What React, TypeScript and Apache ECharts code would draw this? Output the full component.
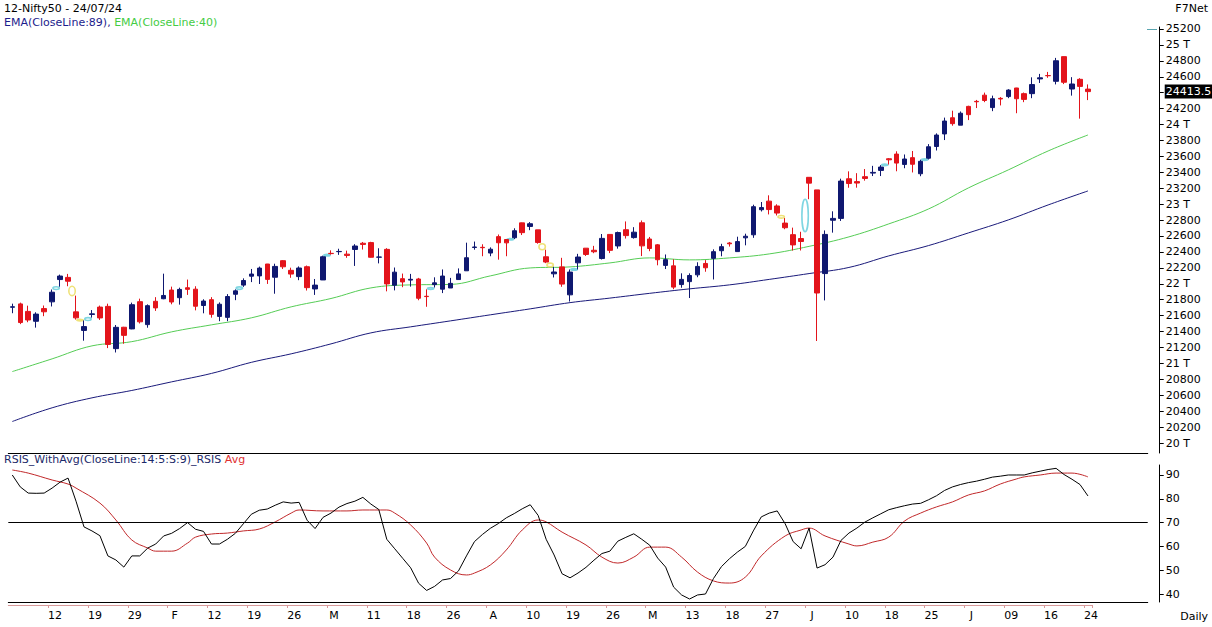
import React, { useEffect, useRef } from 'react';
import * as echarts from 'echarts';

// ---- trading days shown (Jan 5 2024 .. Jul 24 2024) ----
const dates = [
  '01-05','01-08','01-09','01-10','01-11','01-12','01-15','01-16','01-17','01-18',
  '01-19','01-20','01-23','01-24','01-25','01-29','01-30','01-31','02-01','02-02',
  '02-05','02-06','02-07','02-08','02-09','02-12','02-13','02-14','02-15','02-16',
  '02-19','02-20','02-21','02-22','02-23','02-26','02-27','02-28','02-29','03-01',
  '03-02','03-04','03-05','03-06','03-07','03-11','03-12','03-13','03-14','03-15',
  '03-18','03-19','03-20','03-21','03-22','03-26','03-27','03-28','04-01','04-02',
  '04-03','04-04','04-05','04-08','04-09','04-10','04-12','04-15','04-16','04-18',
  '04-19','04-22','04-23','04-24','04-25','04-26','04-29','04-30','05-02','05-03',
  '05-06','05-07','05-08','05-09','05-10','05-13','05-14','05-15','05-16','05-17',
  '05-18','05-21','05-22','05-23','05-24','05-27','05-28','05-29','05-30','05-31',
  '06-03','06-04','06-05','06-06','06-07','06-10','06-11','06-12','06-13','06-14',
  '06-18','06-19','06-20','06-21','06-24','06-25','06-26','06-27','06-28','07-01',
  '07-02','07-03','07-04','07-05','07-08','07-09','07-10','07-11','07-12','07-15',
  '07-16','07-18','07-19','07-22','07-23','07-24',
];
const futureSlots = ['f1', 'f2', 'f3', 'f4', 'f5', 'f6', 'f7'];

const opens = [
  21705,21747,21653,21529,21688,21773,22053,22080,21647,21414,
  21615,21707,21716,21185,21454,21433,21775,21487,21780,21812,
  21921,21825,21950,21932,21727,21800,21590,21578,21868,21983,
  22095,22099,22248,22082,22290,22169,22090,22214,21935,22048,
  22382,22403,22372,22431,22509,22517,22334,22432,21982,22064,
  22046,22060,21843,21990,21932,21947,22053,22163,22456,22458,
  22386,22592,22556,22578,22765,22720,22677,22339,22125,22212,
  21861,22263,22447,22421,22317,22620,22475,22679,22580,22766,
  22562,22489,22231,22225,21990,22027,22112,22255,22319,22415,
  22512,22404,22577,22615,22930,23038,22977,22762,22617,22568,
  23337,23179,22128,22798,22821,23319,23283,23345,23390,23424,
  23570,23629,23499,23584,23382,23577,23724,23882,24085,23992,
  24228,24291,24369,24213,24329,24351,24459,24388,24388,24573,
  24615,24543,24853,24446,24568,24445,
];
const highs = [
  21750,21763,21725,21642,21727,21928,22115,22124,21851,21539,
  21670,21726,21750,21482,21459,21763,21813,21741,21832,22127,
  21964,21951,22053,21969,21805,21832,21766,21870,21930,22068,
  22186,22216,22249,22252,22297,22202,22218,22229,22060,22353,
  22420,22440,22416,22497,22525,22527,22446,22447,22204,22128,
  22124,22074,21930,22081,22180,22074,22193,22516,22530,22496,
  22457,22619,22557,22697,22768,22775,22677,22428,22213,22326,
  22180,22376,22447,22476,22625,22620,22655,22783,22711,22795,
  22588,22499,22368,22307,22131,22131,22270,22297,22432,22502,
  22525,22591,22629,22993,23027,23111,22998,22825,22705,22653,
  23338,23179,22670,22910,23320,23412,23389,23441,23481,23490,
  23579,23664,23624,23668,23558,23754,23889,24087,24174,24164,
  24236,24309,24401,24363,24345,24444,24461,24402,24593,24636,
  24661,24837,24854,24595,24582,24504,
];
const lows = [
  21630,21493,21517,21449,21593,21715,21963,21969,21550,21285,
  21575,21546,21192,21137,21247,21429,21501,21448,21659,21806,
  21742,21738,21860,21666,21629,21574,21530,21530,21794,21961,
  22021,21997,21998,21875,22186,22075,22045,21915,21860,22047,
  22366,22363,22326,22224,22430,22329,22256,21905,21917,21957,
  21964,21793,21711,21953,21883,21947,22052,22163,22428,22346,
  22346,22303,22346,22561,22612,22673,22503,22259,22079,21962,
  21777,22180,22349,22384,22305,22385,22441,22568,22567,22348,
  22409,22232,22185,21932,21950,21821,22082,22151,22054,22345,
  22467,22404,22483,22577,22908,22871,22858,22685,22417,22418,
  23062,21281,21791,22642,22789,23206,23207,23295,23353,23353,
  23498,23413,23451,23398,23351,23562,23674,23805,23985,23992,
  24056,24207,24281,24168,24240,24331,24142,24281,24331,24522,
  24587,24504,24508,24363,24074,24307,
];
const closes = [
  21711,21513,21545,21619,21648,21894,22097,22032,21572,21462,
  21622,21571,21238,21453,21352,21737,21522,21725,21697,21853,
  21771,21929,21930,21718,21783,21616,21743,21840,21911,22041,
  22122,22197,22055,22218,22213,22122,22198,21951,21983,22339,
  22379,22406,22356,22474,22494,22333,22336,21998,22146,22023,
  22056,21818,21839,22012,22097,22005,22124,22327,22462,22453,
  22434,22515,22514,22666,22642,22754,22519,22273,22148,21996,
  22147,22336,22368,22402,22570,22420,22643,22605,22648,22476,
  22443,22302,22303,21958,22055,22104,22218,22201,22403,22466,
  22502,22530,22597,22968,22957,22932,22888,22704,22488,22531,
  23264,21884,22620,22821,23290,23259,23265,23323,23399,23466,
  23557,23516,23567,23501,23538,23721,23868,24044,24011,24142,
  24124,24286,24302,24324,24321,24433,24324,24316,24502,24587,
  24613,24801,24531,24509,24479,24413.5,
];

// EMA lines at every 5th session: [session index, value]
const ema89 = [
  [0,20270],[5,20442],[10,20567],[15,20660],[20,20768],[25,20874],[30,21013],
  [35,21120],[40,21245],[45,21383],[50,21459],[55,21534],[60,21610],[65,21685],
  [70,21763],[75,21820],[80,21880],[85,21936],[90,21986],[95,22055],[100,22128],
  [105,22205],[110,22350],[115,22480],[120,22639],[125,22802],[130,22990],[135,23166],
];
const ema40 = [
  [0,20897],[5,21057],[10,21220],[15,21273],[20,21396],[25,21484],[30,21572],
  [35,21710],[40,21815],[45,21948],[50,21986],[55,21992],[60,22099],[65,22199],
  [70,22212],[75,22262],[80,22325],[85,22300],[90,22325],[95,22375],[100,22470],
  [105,22589],[110,22752],[115,22940],[120,23204],[125,23430],[130,23668],[135,23869],
];

// RSI per session and its average (read at traced points)
const rsi = [
  90,85,82.4,82.3,82.4,84.5,87,88.7,79,68.2,
  66.5,64.5,56,54.3,51.3,56,56,59.3,61,64.4,
  65.5,67.5,70,67.2,66.3,61,61,63,65.5,69.5,
  73.5,75.2,75.7,77.3,78.7,78.2,78.5,71,67.5,72.2,
  74,76.5,78,79,80.6,77.8,75.5,63,59,55,
  51,44.5,41.5,43.2,45.9,46.5,49.7,56,62,65,
  67.6,69.6,72,73.8,75.8,77.5,73,63,56.4,48.5,
  46.8,48.8,51.2,54.2,57,58,62.2,63.8,65.3,63,
  60.5,55.1,51.3,42.9,39.6,37.9,39.6,40,46.5,51.5,
  54.8,57.6,60,66.5,72.4,74,74.9,69.5,62,59,
  67.7,50.9,52.3,55.5,62.5,65.6,67.7,70.2,72,73.7,
  75.4,76.3,77.1,77.8,78.1,79.6,81.3,83.5,85,86,
  86.8,87.4,88.2,89.1,89.5,90,90,90,90.9,91.6,
  92.3,92.8,90.2,88.2,86,81.2,
];
const rsiAvg = [
  [0,92.1],[2,90.8],[5,87.9],[7,86.2],[8,84.5],[11,78.2],[13,71.1],[15,62.7],
  [17,59.3],[18,58],[20,58],[22,61.4],[23,63.9],[25,65.2],[27,65.6],[29,66.5],
  [31,67.3],[33,70.3],[35,74],[36,75.3],[39,74.9],[42,74.9],[44,75.3],[47,75.3],
  [48,74],[50,69],[52,61.4],[53,55.5],[55,50.1],[57,48],[58,48.8],[60,52.2],
  [62,58.5],[64,66.9],[66,71.1],[67,70.3],[69,66],[72,60.6],[74,55.5],[76,53],
  [78,55.5],[80,59.7],[82,59.7],[84,55.5],[86,49.2],[88,45.5],[90,44.6],[92,47.1],
  [94,56],[97,64.4],[99,66.9],[100,67.7],[102,64.4],[105,61],[106,60.2],[108,61.8],
  [110,63.9],[112,70.7],[114,74],[116,76.6],[118,78.7],[120,81.6],[122,83.3],
  [124,86.2],[126,88.3],[127,89.2],[129,90],[131,90.8],[133,90.8],[135,89.2],
];
const rsiLevel = 70;

// axis tick labels
const xTickLabels = [
  '12','19','29','F','12','19','26','M','11','18','26','A','10','19',
  '26','M','13','18','27','J','10','18','25','J','09','16','24',
];
const priceTicks = [
  20000,20200,20400,20600,20800,21000,21200,21400,21600,21800,22000,22200,22400,
  22600,22800,23000,23200,23400,23600,23800,24000,24200,24400,24600,24800,25000,25200,
];
const rsiTicks = [40, 50, 60, 70, 80, 90];

const FONT = 'DejaVu Sans, Verdana, sans-serif';
const NAVY = '#0f1870';
const RED = '#e3141b';
const GREEN = '#55cc55';
const GAP_UP = '#7fd6e2';
const GAP_DOWN = '#efe27a';

export default function App() {
  const ref = useRef<HTMLDivElement>(null);
  useEffect(() => {
    if (!ref.current) return;
    const chart = echarts.init(ref.current, undefined, { renderer: 'svg' });
    const cats = [...dates, ...futureSlots];
    const labelOf: Record<string, string> = {};
    xTickLabels.forEach((t, k) => { labelOf[dates[5 + k * 5]] = t; });
    const showTick = (i: number) => i >= 5 && i % 5 === 0;
    const lastClose = closes[closes.length - 1];
    const slotW = 7.968;
    const gridLeft = 8.3;
    const gridW = slotW * cats.length;

    // price gaps between consecutive sessions: [index, gap low, gap high, direction]
    const gaps: number[][] = [];
    for (let i = 1; i < dates.length; i++) {
      if (lows[i] >= highs[i - 1]) gaps.push([i, highs[i - 1], lows[i], 1]);
      else if (highs[i] <= lows[i - 1]) gaps.push([i, highs[i], lows[i - 1], -1]);
    }

    chart.setOption({
      animation: false,
      backgroundColor: '#ffffff',
      textStyle: { fontFamily: FONT },
      grid: [
        { left: gridLeft, top: 27, width: gridW, height: 426 },
        { left: gridLeft, top: 465, width: gridW, height: 137 },
        { left: gridLeft, top: 600, width: slotW * dates.length, height: 5 },
      ],
      xAxis: [
        {
          type: 'category', gridIndex: 0, data: cats, boundaryGap: true,
          axisLine: { show: true, lineStyle: { color: '#000', width: 1 } },
          axisTick: { show: false }, axisLabel: { show: false }, splitLine: { show: false },
        },
        {
          type: 'category', gridIndex: 1, data: cats, boundaryGap: true,
          axisLine: { show: true, lineStyle: { color: '#000', width: 1 } },
          axisTick: { show: false }, axisLabel: { show: false }, splitLine: { show: false },
        },
        {
          type: 'category', gridIndex: 2, data: dates, boundaryGap: true,
          axisLine: { show: true, lineStyle: { color: '#d99a9a', width: 1 } },
          axisTick: {
            show: true, length: 3, interval: (i: number) => showTick(i),
            lineStyle: { color: '#d99a9a' },
          },
          axisLabel: {
            show: true, interval: (i: number) => showTick(i),
            formatter: (v: string) => labelOf[v] || '',
            fontSize: 11, color: '#000', fontFamily: FONT, margin: 5, padding: [0, 0, 0, 6],
          },
          splitLine: { show: false },
        },
      ],
      yAxis: [
        {
          type: 'value', gridIndex: 0, position: 'right', offset: 12,
          min: 19874.4, max: 25225.1, scale: true,
          axisLine: { show: true, lineStyle: { color: '#000' } },
          axisTick: { show: true, length: 4, customValues: priceTicks, lineStyle: { color: '#000' } },
          axisLabel: {
            show: true, customValues: priceTicks.filter((v) => v !== 24400),
            formatter: (v: number) => (v % 1000 === 0 ? `${v / 1000} T` : `${v}`),
            fontSize: 11, color: '#000', fontFamily: FONT, margin: 6,
          },
          splitLine: { show: false },
        },
        {
          type: 'value', gridIndex: 1, position: 'right', offset: 12,
          min: 36.64, max: 94.2,
          axisLine: { show: true, lineStyle: { color: '#000' } },
          axisTick: { show: true, length: 4, customValues: rsiTicks, lineStyle: { color: '#000' } },
          axisLabel: {
            show: true, customValues: rsiTicks,
            fontSize: 11, color: '#000', fontFamily: FONT, margin: 6,
          },
          splitLine: { show: false },
        },
        { type: 'value', gridIndex: 2, show: false, min: 0, max: 1 },
      ],
      series: [
        {
          type: 'line', name: 'EMA89', xAxisIndex: 0, yAxisIndex: 0, data: ema89,
          symbol: 'none', smooth: 0.4, lineStyle: { color: '#1a1a7a', width: 1 }, z: 1,
        },
        {
          type: 'line', name: 'EMA40', xAxisIndex: 0, yAxisIndex: 0, data: ema40,
          symbol: 'none', smooth: 0.4, lineStyle: { color: GREEN, width: 1 }, z: 1,
        },
        {
          type: 'custom', name: 'gaps', xAxisIndex: 0, yAxisIndex: 0, data: gaps, z: 2,
          encode: { x: 0, y: [1, 2] },
          renderItem: (params: any, api: any) => {
            const i = api.value(0);
            const lo = api.value(1);
            const hi = api.value(2);
            const dir = api.value(3);
            const a = api.coord([i - 1, lo]);
            const b = api.coord([i, hi]);
            const cx = (a[0] + b[0]) / 2;
            const h = Math.abs(a[1] - b[1]);
            return {
              type: 'ellipse',
              shape: { cx, cy: (a[1] + b[1]) / 2, rx: 3.2, ry: Math.max(h / 2, 0.8) },
              style: { fill: 'none', stroke: dir > 0 ? GAP_UP : GAP_DOWN, lineWidth: 1.6 },
            };
          },
        },
        {
          type: 'candlestick', name: 'Nifty50', xAxisIndex: 0, yAxisIndex: 0, barWidth: 5,
          clip: false, z: 3,
          data: opens.map((o, i) => [o, closes[i], lows[i], highs[i]]),
          itemStyle: { color: NAVY, color0: RED, borderColor: NAVY, borderColor0: RED, borderWidth: 1 },
          markLine: {
            silent: true, symbol: 'none', animation: false,
            lineStyle: { color: 'rgba(0,0,0,0)', width: 0 },
            label: {
              show: true, position: 'end', distance: 17,
              formatter: () => `${lastClose}`,
              backgroundColor: '#000', color: '#fff', fontSize: 11, fontFamily: FONT,
              padding: [2, 1, 1, 1],
            },
            data: [{ yAxis: lastClose }],
          },
        },
        {
          type: 'line', name: 'RSIS', xAxisIndex: 1, yAxisIndex: 1, data: rsi,
          symbol: 'none', lineStyle: { color: '#000', width: 1 }, z: 3,
          markLine: {
            silent: true, symbol: 'none', animation: false,
            lineStyle: { color: '#000', width: 1, type: 'solid' },
            label: { show: false },
            data: [{ yAxis: rsiLevel }],
          },
        },
        {
          type: 'line', name: 'Avg', xAxisIndex: 1, yAxisIndex: 1, data: rsiAvg,
          symbol: 'none', smooth: 0.4, lineStyle: { color: '#c0282a', width: 1 }, z: 2,
        },
      ],
      graphic: [
        {
          type: 'text', left: 4, top: 3,
          style: { text: '12-Nifty50 - 24/07/24', fill: '#000', font: `11px ${FONT}` },
        },
        {
          type: 'text', left: 4, top: 17,
          style: {
            text: '{a|EMA(CloseLine:89), }{b|EMA(CloseLine:40)}',
            font: `11px ${FONT}`,
            rich: {
              a: { fill: '#1c1c8c', fontSize: 11, fontFamily: FONT },
              b: { fill: '#44cc44', fontSize: 11, fontFamily: FONT },
            },
          },
        },
        {
          type: 'text', right: 4, top: 3,
          style: { text: 'F7Net', fill: '#000', font: `11px ${FONT}` },
        },
        {
          type: 'line', shape: { x1: 1147, y1: 29.5, x2: 1157, y2: 29.5 },
          style: { stroke: '#5aa5b0', lineWidth: 1 },
        },
        {
          type: 'text', left: 4, top: 454,
          style: {
            text: '{a|RSIS_WithAvg(CloseLine:14:5:S:9)_RSIS }{b|Avg}',
            font: `11px ${FONT}`,
            rich: {
              a: { fill: '#1c2a6a', fontSize: 11, fontFamily: FONT },
              b: { fill: '#e03030', fontSize: 11, fontFamily: FONT },
            },
          },
        },
        {
          type: 'text', right: 4, top: 611,
          style: { text: 'Daily', fill: '#000', font: `11px ${FONT}` },
        },
      ],
    });
    return () => chart.dispose();
  }, []);
  return (
    <div
      ref={ref}
      style={{ position: 'fixed', left: 0, top: 0, width: 1212, height: 627, background: '#fff' }}
    />
  );
}
